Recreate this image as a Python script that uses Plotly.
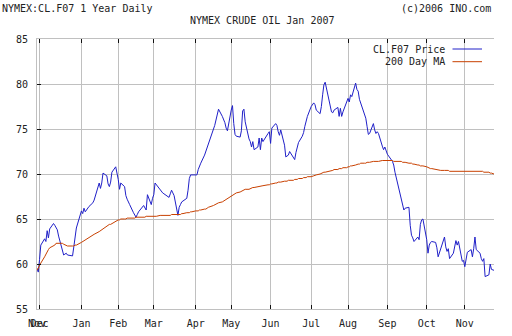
import pandas as pd
import plotly.graph_objects as go

# ---------------- data ----------------
holidays = ["2005-12-26", "2006-01-02", "2006-01-16", "2006-02-20", "2006-04-14",
            "2006-05-29", "2006-07-04", "2006-09-04", "2006-11-23"]
dates = [d.strftime("%Y-%m-%d") for d in pd.bdate_range("2005-11-29", "2006-11-24")
         if d.strftime("%Y-%m-%d") not in holidays]

price = [
    # Nov 05
    59.5, 59.1,
    # Dec 05
    60.5, 62.1, 62.8, 62.5, 63.7, 62.9, 63.9, 64.5, 64.3, 64.1, 63.8, 63.1,
    61.3, 61.0, 61.1, 61.2, 61.0, 60.9, 61.9, 63.2, 64.0,
    # Jan 06
    65.9, 65.6, 66.2, 65.8, 66.4, 66.5, 66.6, 66.8, 67.1, 69.0, 68.4, 69.0,
    70.1, 69.8, 68.9, 68.6, 69.1, 70.2, 70.8, 70.2,
    # Feb 06
    69.4, 68.3, 69.0, 68.6, 67.6, 67.2, 66.8, 66.6, 65.7, 65.4, 65.2, 65.5,
    65.8, 66.5, 66.2, 66.0, 67.7, 66.6, 67.3,
    # Mar 06
    67.7, 69.0, 68.8, 68.2, 68.1, 67.9, 67.8, 67.7, 67.4, 67.8, 68.2, 67.9,
    67.6, 65.4, 66.3, 66.6, 66.9, 67.0, 67.3, 68.2, 69.5, 69.9, 69.9,
    # Apr 06
    69.9, 69.9, 70.5, 70.9, 71.2, 72.1, 72.5, 72.9, 73.2, 75.0, 75.4, 76.0,
    76.5, 77.2, 76.4, 76.1, 75.7, 75.1, 74.8,
    # May 06
    77.1, 77.6, 75.6, 74.4, 74.2, 74.1, 74.8, 77.0, 77.2, 75.8, 73.9, 73.6,
    73.0, 73.6, 72.7, 73.0, 74.0, 72.7, 74.0, 73.6, 74.5, 74.7,
    # Jun 06
    73.4, 75.1, 75.6, 75.4, 74.7, 74.3, 74.9, 73.2, 71.9, 72.0, 72.1, 72.5,
    71.8, 71.6, 72.4, 73.0, 73.5, 74.2, 74.6, 75.3, 76.0, 76.4,
    # Jul 06
    77.5, 77.9, 77.7, 77.1, 76.7, 77.5, 78.8, 79.9, 80.2, 78.4, 77.8, 76.9,
    76.8, 77.1, 77.4, 76.4, 77.3, 76.4, 76.9, 77.9,
    # Aug 06
    78.4, 78.0, 78.8, 78.6, 80.1, 79.4, 79.2, 78.3, 77.9, 76.8, 76.2, 75.3,
    74.4, 74.5, 75.6, 74.9, 74.5, 74.7, 74.5, 73.1, 72.7, 73.0, 72.6,
    # Sep 06
    72.2, 71.4, 71.0, 70.2, 69.6, 67.6, 66.9, 66.5, 66.0, 66.2, 66.3, 64.3,
    63.2, 62.9, 62.5, 63.0, 62.7, 64.4, 64.9, 65.0,
    # Oct 06
    62.7, 61.2, 62.1, 62.4, 62.5, 62.4, 61.8, 60.8, 61.2, 61.6, 63.0, 61.9,
    61.4, 61.7, 60.6, 61.2, 61.8, 62.6, 62.1, 62.5, 60.3, 60.4,
    # Nov 06
    59.7, 60.8, 61.3, 61.6, 60.8, 61.7, 63.0, 61.6, 61.2, 60.6, 60.3, 60.6,
    58.6, 58.8, 60.0, 59.4, 59.3,
]

ma200 = [
    # Nov 05
    59.3, 59.6,
    # Dec 05
    59.9, 60.1, 60.8, 61.1, 61.4, 61.6, 61.8, 62.0, 62.1, 62.3, 62.3, 62.3,
    62.3, 62.2, 62.1, 62.1, 62.0, 62.0, 62.0, 62.1, 62.1,
    # Jan 06
    62.4, 62.5, 62.6, 62.7, 62.9, 63.0, 63.1, 63.2, 63.3, 63.6, 63.7, 63.9,
    64.0, 64.2, 64.3, 64.4, 64.4, 64.5, 64.7, 64.8,
    # Feb 06
    64.9, 64.9, 65.0, 65.0, 65.0, 65.1, 65.1, 65.1, 65.1, 65.1, 65.2, 65.2,
    65.2, 65.2, 65.2, 65.3, 65.3, 65.3, 65.3,
    # Mar 06
    65.3, 65.3, 65.3, 65.4, 65.4, 65.4, 65.4, 65.4, 65.4, 65.4, 65.5, 65.5,
    65.5, 65.5, 65.5, 65.5, 65.6, 65.6, 65.7, 65.7, 65.7, 65.8, 65.8,
    # Apr 06
    65.9, 65.9, 65.9, 66.0, 66.0, 66.1, 66.1, 66.2, 66.3, 66.5, 66.6, 66.6,
    66.7, 66.8, 66.9, 67.0, 67.1, 67.2, 67.3,
    # May 06
    67.5, 67.6, 67.7, 67.8, 67.9, 68.0, 68.1, 68.1, 68.2, 68.3, 68.3, 68.4,
    68.4, 68.5, 68.5, 68.6, 68.6, 68.7, 68.7, 68.7, 68.8, 68.8,
    # Jun 06
    68.9, 68.9, 69.0, 69.0, 69.1, 69.1, 69.1, 69.2, 69.2, 69.2, 69.3, 69.3,
    69.3, 69.4, 69.4, 69.4, 69.5, 69.5, 69.6, 69.6, 69.6, 69.7,
    # Jul 06
    69.7, 69.8, 69.9, 69.9, 70.0, 70.1, 70.1, 70.2, 70.2, 70.3, 70.3, 70.4,
    70.4, 70.5, 70.5, 70.6, 70.6, 70.6, 70.7, 70.7,
    # Aug 06
    70.8, 70.8, 70.9, 70.9, 71.0, 71.1, 71.1, 71.1, 71.2, 71.2, 71.2, 71.3,
    71.3, 71.3, 71.4, 71.4, 71.4, 71.4, 71.4, 71.5, 71.5, 71.5, 71.5,
    # Sep 06
    71.5, 71.5, 71.4, 71.4, 71.4, 71.4, 71.4, 71.3, 71.3, 71.3, 71.2, 71.2,
    71.2, 71.1, 71.1, 71.0, 71.0, 70.9, 70.9, 70.9,
    # Oct 06
    70.8, 70.7, 70.7, 70.6, 70.6, 70.5, 70.5, 70.5, 70.4, 70.4, 70.4, 70.4,
    70.4, 70.4, 70.3, 70.3, 70.3, 70.3, 70.3, 70.3, 70.3, 70.3,
    # Nov 06
    70.3, 70.3, 70.3, 70.3, 70.3, 70.3, 70.3, 70.3, 70.3, 70.3, 70.3, 70.2,
    70.2, 70.2, 70.1, 70.1, 70.0,
]

month_ticks = ["2005-11-29", "2005-12-01", "2006-01-03", "2006-02-01", "2006-03-01",
               "2006-04-03", "2006-05-01", "2006-06-01", "2006-07-03", "2006-08-01",
               "2006-09-01", "2006-10-02", "2006-11-01"]
month_labels = ["Nov", "Dec", "Jan", "Feb", "Mar", "Apr", "May", "Jun", "Jul",
                "Aug", "Sep", "Oct", "Nov"]
y_ticks = [55, 60, 65, 70, 75, 80, 85]

series_names = ["CL.F07 Price", "200 Day MA"]
series_colors = ["#2020c8", "#c84000"]

# ---------------- figure ----------------
FONT = "DejaVu Sans Mono"
W, H = 512, 336
ML, MR, MT, MB = 37, 18, 39, 27
PW, PH = W - ML - MR, H - MT - MB


def px(x):
    return (x - ML) / PW


def py(y):
    return (H - MB - y) / PH


fig = go.Figure()
fig.add_trace(go.Scatter(x=dates, y=price, mode="lines", name=series_names[0],
                         line=dict(color=series_colors[0], width=1), showlegend=False))
fig.add_trace(go.Scatter(x=dates, y=ma200, mode="lines", name=series_names[1],
                         line=dict(color=series_colors[1], width=1), showlegend=False))

grid = "#c0c0c0"
fig.update_layout(
    width=W, height=H,
    margin=dict(l=ML, r=MR, t=MT, b=MB, pad=0, autoexpand=False),
    paper_bgcolor="white", plot_bgcolor="white",
    font=dict(family=FONT, size=10, color="#222222"),
    xaxis=dict(type="date", range=[dates[0], dates[-1]], automargin=False,
               tickmode="array", tickvals=month_ticks, ticktext=month_labels,
               tickangle=0, showgrid=True, gridcolor=grid, gridwidth=1,
               ticks="inside", ticklen=4, tickcolor="#111111", mirror="ticks",
               showline=True, linecolor=grid, linewidth=1, zeroline=False,
               tickfont=dict(size=10), ticklabelstandoff=5),
    yaxis=dict(range=[55, 85], tickmode="array", tickvals=y_ticks, automargin=False,
               showgrid=True, gridcolor=grid, gridwidth=1,
               ticks="inside", ticklen=4, tickcolor="#111111", mirror=False,
               showline=True, linecolor=grid, linewidth=1, zeroline=False,
               tickfont=dict(size=10), ticklabelstandoff=6),
    yaxis2=dict(range=[55, 85], tickmode="array", tickvals=y_ticks, automargin=False,
                overlaying="y", side="right", showgrid=False, showline=False,
                zeroline=False, ticks="inside", ticklen=5, tickcolor="#111111",
                showticklabels=False),
)

annos = [
    dict(text="NYMEX:CL.F07 1 Year Daily", x=px(0), y=py(9), xanchor="left"),
    dict(text="NYMEX CRUDE OIL Jan 2007", x=px(262), y=py(20.5), xanchor="center"),
    dict(text="(c)2006 INO.com", x=px(493), y=py(9), xanchor="right"),
    dict(text=series_names[0], x=px(447), y=py(49), xanchor="right"),
    dict(text=series_names[1], x=px(447), y=py(61.7), xanchor="right"),
]
for a in annos:
    fig.add_annotation(xref="paper", yref="paper", showarrow=False, yanchor="middle",
                       font=dict(family=FONT, size=10, color="#222222"), **a)

for yy, c in [(49, series_colors[0]), (61.7, series_colors[1])]:
    fig.add_shape(type="line", xref="paper", yref="paper",
                  x0=px(452.5), x1=px(482), y0=py(yy), y1=py(yy),
                  line=dict(color=c, width=1))

fig.write_html("out.html")
